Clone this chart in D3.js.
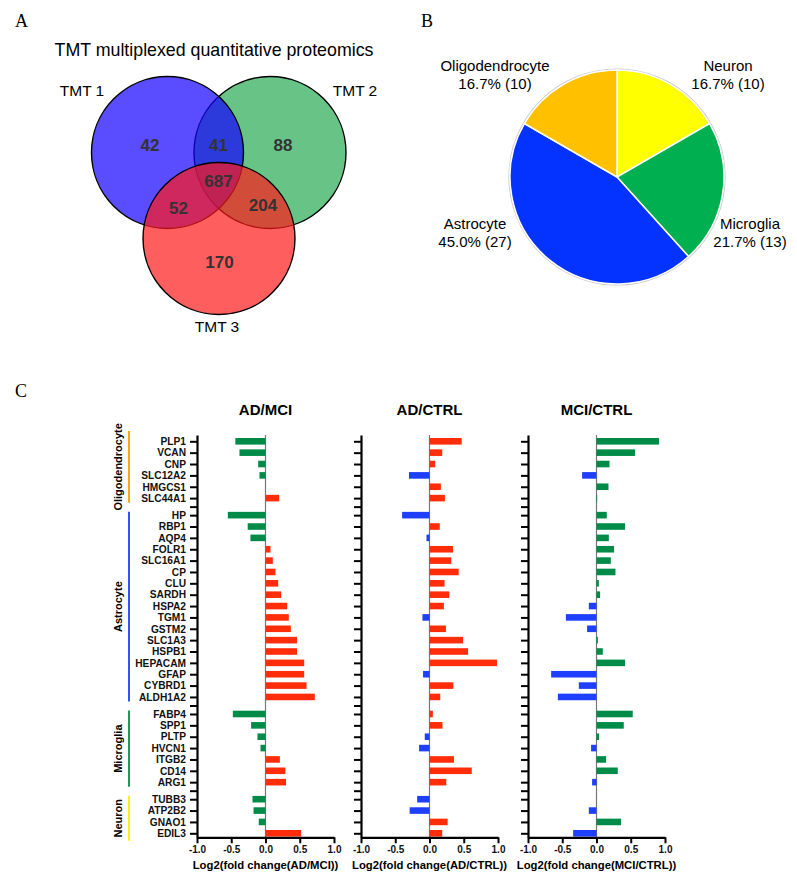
<!DOCTYPE html>
<html>
<head>
<meta charset="utf-8">
<script src="https://cdn.jsdelivr.net/npm/d3@7"></script>
<style>
  html, body { margin: 0; padding: 0; background: #fff; }
  svg { display: block; font-family: "Liberation Sans", Arial, Helvetica, sans-serif; }
</style>
</head>
<body>
<svg id="fig" width="797" height="879"></svg>
<script>
// ---------------- DATA ----------------
// Panel A: Venn
const vennSets = ["TMT 1", "TMT 2", "TMT 3"];
const vennRegionLabels = ["42", "41", "88", "687", "52", "204", "170"];
const vennRegionKeys = ["1", "12", "2", "123", "13", "23", "3"];

// Panel B: pie
const pieCategories = ["Neuron", "Microglia", "Astrocyte", "Oligodendrocyte"];
const pieCounts = [10, 13, 27, 10];
const piePercents = ["16.7%", "21.7%", "45.0%", "16.7%"];

// Panel C: bar panels
const genes = ["PLP1","VCAN","CNP","SLC12A2","HMGCS1","SLC44A1",
  "HP","RBP1","AQP4","FOLR1","SLC16A1","CP","CLU","SARDH","HSPA2","TGM1","GSTM2","SLC1A3","HSPB1","HEPACAM","GFAP","CYBRD1","ALDH1A2",
  "FABP4","SPP1","PLTP","HVCN1","ITGB2","CD14","ARG1",
  "TUBB3","ATP2B2","GNAO1","EDIL3"];
const groups = ["Oligodendrocyte", "Astrocyte", "Microglia", "Neuron"];
const groupSizes = [6, 17, 7, 4];
const comparisons = ["AD/MCI", "AD/CTRL", "MCI/CTRL"];
const adMci = [-0.44,-0.38,-0.107,-0.088,0,0.20,
  -0.55,-0.26,-0.22,0.073,0.107,0.146,0.185,0.229,0.317,0.34,0.37,0.46,0.46,0.565,0.565,0.60,0.72,
  -0.477,-0.21,-0.117,-0.073,0.21,0.29,0.30,
  -0.19,-0.175,-0.098,0.52];
const adCtrl = [0.47,0.186,0.083,-0.30,0.166,0.225,
  -0.40,0.15,-0.044,0.343,0.318,0.426,0.22,0.289,0.21,-0.103,0.24,0.49,0.563,0.985,-0.094,0.348,0.157,
  0.049,0.19,-0.069,-0.152,0.357,0.617,0.245,
  -0.18,-0.29,0.265,0.186];
const mciCtrl = [0.913,0.563,0.19,-0.21,0.175,0.01,
  0.15,0.417,0.18,0.257,0.209,0.277,0.034,0.053,-0.112,-0.447,-0.137,0.02,0.092,0.417,-0.662,-0.258,-0.564,
  0.529,0.398,0.038,-0.079,0.14,0.31,-0.064,
  0,-0.112,0.359,-0.341];
const xTicks = [-1.0, -0.5, 0.0, 0.5, 1.0];

// ---------------- STYLE ----------------
const RED = "#ff2d0a", GREEN = "#008c48", BLUE = "#1f3fff";
const groupColors = ["#ff9a00", "#1f3fff", "#009048", "#ffee00"];
const pieColors = ["#ffff00", "#00b050", "#0432ff", "#ffc000"];
const panelColors = [[RED, GREEN], [RED, BLUE], [GREEN, BLUE]];

const svg = d3.select("#fig");

// Panel letters
const letters = [["A", 15, 27], ["B", 421, 27], ["C", 15, 397]];
svg.selectAll("text.letter").data(letters).join("text")
  .attr("class", "letter")
  .attr("x", d => d[1]).attr("y", d => d[2])
  .attr("font-family", "'Liberation Serif', 'Times New Roman', serif")
  .attr("font-size", 18).text(d => d[0]);

// ---------------- PANEL A: VENN ----------------
{
  const g = svg.append("g");
  g.append("text").attr("x", 214).attr("y", 56).attr("text-anchor", "middle")
    .attr("font-size", 17.8).text("TMT multiplexed quantitative proteomics");
  const r = 76;
  const centers = { "TMT 1": [167.5, 152.5], "TMT 2": [270, 152.5], "TMT 3": [219, 238.5] };
  const fills = { "TMT 1": "rgb(20,0,255)", "TMT 2": "rgb(40,169,84)", "TMT 3": "rgb(255,26,26)" };
  const order = ["TMT 2", "TMT 1", "TMT 3"];
  g.selectAll("circle").data(order).join("circle")
    .attr("cx", d => centers[d][0]).attr("cy", d => centers[d][1]).attr("r", r)
    .attr("fill", d => fills[d]).attr("fill-opacity", 0.7)
    .attr("stroke", "#000").attr("stroke-width", 1.4);
  const labelPos = { "TMT 1": [82, 96], "TMT 2": [355, 96], "TMT 3": [217, 332] };
  g.selectAll("text.set").data(vennSets).join("text").attr("class", "set")
    .attr("x", d => labelPos[d][0]).attr("y", d => labelPos[d][1])
    .attr("text-anchor", "middle").attr("font-size", 15.5).text(d => d);
  const regionPos = { "1": [150, 145], "12": [218.5, 145], "2": [283, 145], "123": [218.5, 181],
    "13": [178.5, 207.5], "23": [263, 205], "3": [219.5, 261.5] };
  g.selectAll("text.num").data(vennRegionKeys).join("text").attr("class", "num")
    .attr("x", d => regionPos[d][0]).attr("y", d => regionPos[d][1]).attr("dy", "0.36em")
    .attr("text-anchor", "middle").attr("font-size", 17).attr("font-weight", "bold")
    .attr("fill", "#333").text((d, i) => vennRegionLabels[i]);
}

// ---------------- PANEL B: PIE ----------------
{
  const cx = 617, cy = 177, R = 107;
  const g = svg.append("g").attr("transform", `translate(${cx},${cy})`);
  const pie = d3.pie().sort(null).value(d => d)(pieCounts);
  const arc = d3.arc().innerRadius(0).outerRadius(R);
  g.append("circle").attr("r", R + 0.8).attr("fill", "none").attr("stroke", "#c8c8c8").attr("stroke-width", 1.6);
  g.selectAll("path").data(pie).join("path").attr("d", arc)
    .attr("fill", (d, i) => pieColors[i]).attr("stroke", "#fff").attr("stroke-width", 1.5);
  const lab = [[111, -106], [133, 52], [-142, 52], [-122, -106]];
  pieCategories.forEach((c, i) => {
    const t = g.append("text").attr("text-anchor", "middle").attr("font-size", 15);
    t.append("tspan").attr("x", lab[i][0]).attr("y", lab[i][1]).text(c);
    t.append("tspan").attr("x", lab[i][0]).attr("y", lab[i][1] + 18).text(`${piePercents[i]} (${pieCounts[i]})`);
  });
}

// ---------------- PANEL C: BARS ----------------
{
  const rows = [];
  const gapTicks = [];
  const groupSpans = [];
  let k = 0;
  groupSizes.forEach((n, gi) => {
    const start = k + 0.5 * gi;
    for (let j = 0; j < n; j++) rows.push({ gene: genes[k + j], idx: start + j, i: k + j });
    groupSpans.push([start, start + n - 1]);
    if (gi < groupSizes.length - 1) gapTicks.push(start + n - 1 + 0.75);
    k += n;
  });
  const nIdx = rows[rows.length - 1].idx;
  const y = d3.scaleLinear().domain([0, nIdx]).range([441.3, 833.3]);
  const step = y(1) - y(0);
  const yTop = y(-0.55), yBot = y(nIdx + 0.35);
  const tickVals = rows.map(r => r.idx).concat(gapTicks);
  const nameAt = new Map(rows.map(r => [r.idx, r.gene]));

  const panelX = [197, 361, 528];
  const panelW = 137;
  const series = [adMci, adCtrl, mciCtrl];

  series.forEach((vals, p) => {
    const x = d3.scaleLinear().domain([-1, 1]).range([panelX[p], panelX[p] + panelW]);
    const g = svg.append("g");
    g.append("text").attr("x", x(0)).attr("y", 415).attr("text-anchor", "middle")
      .attr("font-size", 15).attr("font-weight", "bold").text(comparisons[p]);
    g.append("line").attr("x1", x(0)).attr("x2", x(0)).attr("y1", yTop).attr("y2", yBot)
      .attr("stroke", "#777").attr("stroke-width", 1.2);
    g.selectAll("rect").data(rows).join("rect")
      .attr("x", d => Math.min(x(0), x(vals[d.i])))
      .attr("width", d => Math.abs(x(vals[d.i]) - x(0)))
      .attr("y", d => y(d.idx) - step * 0.29)
      .attr("height", step * 0.58)
      .attr("fill", d => vals[d.i] >= 0 ? panelColors[p][0] : panelColors[p][1]);
    const ys = d3.scaleLinear().domain([-0.55, nIdx + 0.35]).range([yTop, yBot]);
    const ya = g.append("g").attr("transform", `translate(${panelX[p]},0)`)
      .call(d3.axisLeft(ys).tickValues(tickVals).tickSize(7).tickSizeOuter(0).tickPadding(4)
        .tickFormat(v => p === 0 ? (nameAt.get(v) || "") : ""));
    ya.selectAll("text").attr("font-size", 10.2).attr("font-weight", "bold").attr("fill", "#111")
      .attr("font-family", "'Liberation Sans', Arial, sans-serif");
    ya.selectAll("line").attr("stroke-width", 2);
    ya.select(".domain").attr("stroke-width", 2.2);
    const xa = g.append("g").attr("transform", `translate(0,${yBot})`)
      .call(d3.axisBottom(x).tickValues(xTicks).tickSize(6).tickSizeOuter(0).tickPadding(3)
        .tickFormat(v => v.toFixed(1)));
    xa.selectAll("text").attr("font-size", 10).attr("font-weight", "bold").attr("fill", "#111")
      .attr("font-family", "'Liberation Sans', Arial, sans-serif");
    xa.selectAll("line").attr("stroke-width", 2);
    xa.select(".domain").attr("stroke-width", 2.2);
    g.append("text").attr("x", x(0)).attr("y", 869).attr("text-anchor", "middle")
      .attr("font-size", 11.3).attr("font-weight", "bold")
      .text(`Log2(fold change(${comparisons[p]}))`);
  });

  groups.forEach((name, gi) => {
    const y1 = y(groupSpans[gi][0] - (gi === 0 ? 0.9 : 0.3)), y2 = y(groupSpans[gi][1] + (gi === 3 ? 0.65 : 0.4));
    svg.append("line").attr("x1", 129).attr("x2", 129).attr("y1", y1).attr("y2", y2)
      .attr("stroke", groupColors[gi]).attr("stroke-width", 1.8);
    const ym = (y1 + y2) / 2;
    svg.append("text").attr("transform", `translate(122,${ym}) rotate(-90)`)
      .attr("text-anchor", "middle").attr("font-size", 11).attr("font-weight", "bold").text(name);
  });
}
</script>
</body>
</html>
